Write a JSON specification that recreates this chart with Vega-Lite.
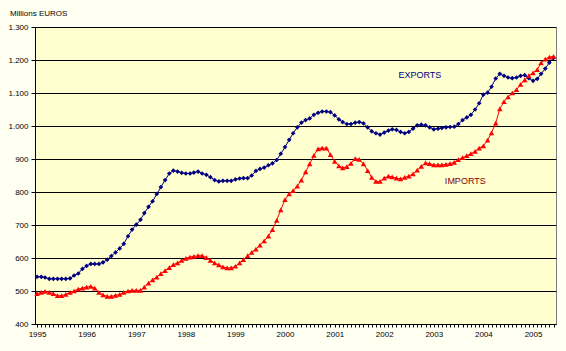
{
  "$schema": "https://vega.github.io/schema/vega-lite/v6.json",
  "width": 521,
  "height": 297,
  "autosize": "none",
  "padding": {"left": 35, "top": 27, "right": 10, "bottom": 27},
  "background": "#FFFFF2",
  "title": {"text": "Millions EUROS", "anchor": "start", "frame": "group", "dx": -25, "offset": 5, "fontSize": 8, "fontWeight": "normal", "font": "Liberation Sans", "color": "#000000"},
  "config": {
    "view": {"fill": "#FFFFD0", "stroke": "#808080", "strokeWidth": 1},
    "axis": {"labelFont": "Liberation Sans", "labelFontSize": 8, "labelColor": "#000000", "domainColor": "#000000", "tickColor": "#000000", "title": null}
  },
  "encoding": {
    "x": {
      "field": "d", "type": "temporal",
      "scale": {"type": "utc", "domain": [{"year": 1994, "month": 12, "date": 17, "utc": true}, {"year": 2005, "month": 6, "date": 19, "utc": true}]},
      "axis": {"tickCount": {"interval": "month", "step": 1}, "grid": false, "tickSize": 3, "labelPadding": 3, "labelOverlap": false, "labelFlush": false, "labelExpr": "utcmonth(datum.value) == 0 ? utcFormat(datum.value, '%Y') : ''"}
    },
    "y": {
      "field": "value", "type": "quantitative",
      "scale": {"domain": [400, 1300], "nice": false, "zero": false},
      "axis": {"values": [400, 500, 600, 700, 800, 900, 1000, 1100, 1200, 1300], "grid": true, "gridColor": "#000000", "gridWidth": 1, "gridOpacity": 1, "tickSize": 4, "labelPadding": 3, "labelOverlap": false, "labelExpr": "replace(format(datum.value, ','), ',', '.')"}
    }
  },
  "layer": [
    {
      "data": {
        "values": [
          {"d":"1995-01","Exports":543,"Imports":492},{"d":"1995-02","Exports":543,"Imports":496},{"d":"1995-03","Exports":541,"Imports":499},{"d":"1995-04","Exports":537,"Imports":496},{"d":"1995-05","Exports":537,"Imports":492},{"d":"1995-06","Exports":537,"Imports":486},{"d":"1995-07","Exports":537,"Imports":486},{"d":"1995-08","Exports":537,"Imports":490},{"d":"1995-09","Exports":538,"Imports":496},{"d":"1995-10","Exports":547,"Imports":500},{"d":"1995-11","Exports":553,"Imports":506},{"d":"1995-12","Exports":567,"Imports":509},
          {"d":"1996-01","Exports":576,"Imports":512},{"d":"1996-02","Exports":582,"Imports":514},{"d":"1996-03","Exports":582,"Imports":509},{"d":"1996-04","Exports":582,"Imports":496},{"d":"1996-05","Exports":587,"Imports":488},{"d":"1996-06","Exports":595,"Imports":484},{"d":"1996-07","Exports":606,"Imports":484},{"d":"1996-08","Exports":617,"Imports":487},{"d":"1996-09","Exports":629,"Imports":490},{"d":"1996-10","Exports":643,"Imports":496},{"d":"1996-11","Exports":666,"Imports":500},{"d":"1996-12","Exports":686,"Imports":502},
          {"d":"1997-01","Exports":701,"Imports":502},{"d":"1997-02","Exports":716,"Imports":502},{"d":"1997-03","Exports":736,"Imports":512},{"d":"1997-04","Exports":755,"Imports":524},{"d":"1997-05","Exports":772,"Imports":534},{"d":"1997-06","Exports":794,"Imports":542},{"d":"1997-07","Exports":815,"Imports":553},{"d":"1997-08","Exports":836,"Imports":562},{"d":"1997-09","Exports":856,"Imports":571},{"d":"1997-10","Exports":865,"Imports":580},{"d":"1997-11","Exports":862,"Imports":585},{"d":"1997-12","Exports":858,"Imports":593},
          {"d":"1998-01","Exports":856,"Imports":599},{"d":"1998-02","Exports":856,"Imports":603},{"d":"1998-03","Exports":859,"Imports":605},{"d":"1998-04","Exports":862,"Imports":607},{"d":"1998-05","Exports":856,"Imports":607},{"d":"1998-06","Exports":852,"Imports":601},{"d":"1998-07","Exports":845,"Imports":593},{"d":"1998-08","Exports":836,"Imports":585},{"d":"1998-09","Exports":832,"Imports":579},{"d":"1998-10","Exports":834,"Imports":573},{"d":"1998-11","Exports":834,"Imports":570},{"d":"1998-12","Exports":834,"Imports":570},
          {"d":"1999-01","Exports":838,"Imports":575},{"d":"1999-02","Exports":841,"Imports":585},{"d":"1999-03","Exports":842,"Imports":595},{"d":"1999-04","Exports":842,"Imports":607},{"d":"1999-05","Exports":850,"Imports":617},{"d":"1999-06","Exports":864,"Imports":627},{"d":"1999-07","Exports":870,"Imports":639},{"d":"1999-08","Exports":874,"Imports":652},{"d":"1999-09","Exports":881,"Imports":666},{"d":"1999-10","Exports":887,"Imports":686},{"d":"1999-11","Exports":897,"Imports":714},{"d":"1999-12","Exports":916,"Imports":746},
          {"d":"2000-01","Exports":936,"Imports":777},{"d":"2000-02","Exports":958,"Imports":794},{"d":"2000-03","Exports":978,"Imports":804},{"d":"2000-04","Exports":996,"Imports":818},{"d":"2000-05","Exports":1010,"Imports":836},{"d":"2000-06","Exports":1018,"Imports":861},{"d":"2000-07","Exports":1023,"Imports":885},{"d":"2000-08","Exports":1034,"Imports":911},{"d":"2000-09","Exports":1040,"Imports":931},{"d":"2000-10","Exports":1044,"Imports":933},{"d":"2000-11","Exports":1044,"Imports":933},{"d":"2000-12","Exports":1042,"Imports":913},
          {"d":"2001-01","Exports":1032,"Imports":893},{"d":"2001-02","Exports":1020,"Imports":879},{"d":"2001-03","Exports":1012,"Imports":873},{"d":"2001-04","Exports":1006,"Imports":877},{"d":"2001-05","Exports":1006,"Imports":887},{"d":"2001-06","Exports":1010,"Imports":901},{"d":"2001-07","Exports":1012,"Imports":899},{"d":"2001-08","Exports":1008,"Imports":885},{"d":"2001-09","Exports":996,"Imports":865},{"d":"2001-10","Exports":984,"Imports":844},{"d":"2001-11","Exports":978,"Imports":832},{"d":"2001-12","Exports":974,"Imports":832},
          {"d":"2002-01","Exports":980,"Imports":842},{"d":"2002-02","Exports":986,"Imports":848},{"d":"2002-03","Exports":990,"Imports":846},{"d":"2002-04","Exports":988,"Imports":842},{"d":"2002-05","Exports":982,"Imports":840},{"d":"2002-06","Exports":978,"Imports":844},{"d":"2002-07","Exports":982,"Imports":848},{"d":"2002-08","Exports":992,"Imports":855},{"d":"2002-09","Exports":1002,"Imports":866},{"d":"2002-10","Exports":1004,"Imports":878},{"d":"2002-11","Exports":1002,"Imports":888},{"d":"2002-12","Exports":996,"Imports":886},
          {"d":"2003-01","Exports":990,"Imports":882},{"d":"2003-02","Exports":992,"Imports":882},{"d":"2003-03","Exports":994,"Imports":882},{"d":"2003-04","Exports":996,"Imports":884},{"d":"2003-05","Exports":997,"Imports":886},{"d":"2003-06","Exports":998,"Imports":890},{"d":"2003-07","Exports":1006,"Imports":898},{"d":"2003-08","Exports":1018,"Imports":904},{"d":"2003-09","Exports":1026,"Imports":910},{"d":"2003-10","Exports":1034,"Imports":916},{"d":"2003-11","Exports":1050,"Imports":923},{"d":"2003-12","Exports":1069,"Imports":933},
          {"d":"2004-01","Exports":1095,"Imports":940},{"d":"2004-02","Exports":1101,"Imports":957},{"d":"2004-03","Exports":1119,"Imports":979},{"d":"2004-04","Exports":1144,"Imports":1009},{"d":"2004-05","Exports":1158,"Imports":1052},{"d":"2004-06","Exports":1152,"Imports":1074},{"d":"2004-07","Exports":1147,"Imports":1088},{"d":"2004-08","Exports":1145,"Imports":1100},{"d":"2004-09","Exports":1147,"Imports":1110},{"d":"2004-10","Exports":1152,"Imports":1126},{"d":"2004-11","Exports":1154,"Imports":1140},{"d":"2004-12","Exports":1145,"Imports":1153},
          {"d":"2005-01","Exports":1137,"Imports":1161},{"d":"2005-02","Exports":1143,"Imports":1171},{"d":"2005-03","Exports":1158,"Imports":1191},{"d":"2005-04","Exports":1174,"Imports":1203},{"d":"2005-05","Exports":1192,"Imports":1209},{"d":"2005-06","Exports":1206,"Imports":1211}
        ],
        "format": {"parse": {"d": "utc:'%Y-%m'"}}
      },
      "transform": [{"fold": ["Exports", "Imports"], "as": ["series", "value"]}],
      "encoding": {
        "color": {"field": "series", "type": "nominal", "scale": {"domain": ["Exports", "Imports"], "range": ["#000080", "#FF0000"]}, "legend": null}
      },
      "layer": [
        {"mark": {"type": "line", "strokeWidth": 1}},
        {"mark": {"type": "point", "filled": true, "opacity": 1}, "encoding": {
          "shape": {"field": "series", "type": "nominal", "scale": {"domain": ["Exports", "Imports"], "range": ["diamond", "triangle-up"]}, "legend": null},
          "size": {"field": "series", "type": "nominal", "scale": {"domain": ["Exports", "Imports"], "range": [22, 30]}, "legend": null}
        }}
      ]
    },
    {
      "data": {"values": [{"label": "EXPORTS", "d": "2002-09-20", "value": 1156}], "format": {"parse": {"d": "utc:'%Y-%m-%d'"}}},
      "mark": {"type": "text", "font": "Liberation Sans", "fontSize": 9, "color": "#000080", "align": "center", "baseline": "middle"},
      "encoding": {"text": {"field": "label"}}
    },
    {
      "data": {"values": [{"label": "IMPORTS", "d": "2003-08-21", "value": 833}], "format": {"parse": {"d": "utc:'%Y-%m-%d'"}}},
      "mark": {"type": "text", "font": "Liberation Sans", "fontSize": 9, "color": "#800000", "align": "center", "baseline": "middle"},
      "encoding": {"text": {"field": "label"}}
    }
  ]
}
